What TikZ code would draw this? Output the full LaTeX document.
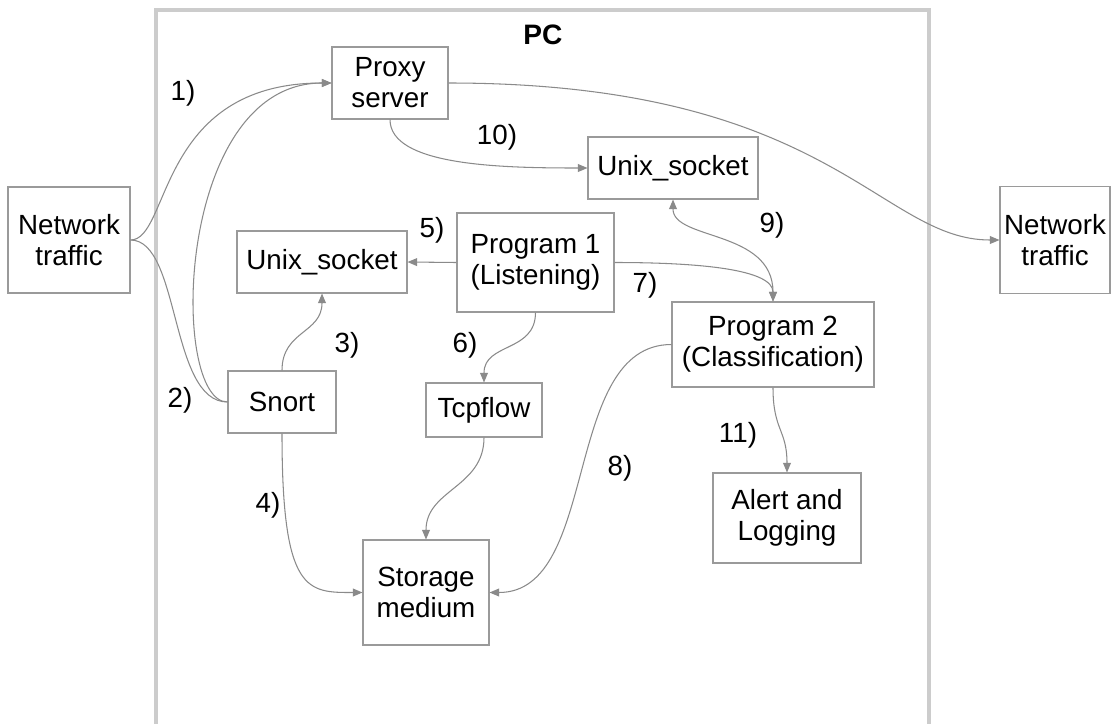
\documentclass[tikz,border=0pt]{standalone}
\usepackage{fontspec}
\setmainfont{Liberation Sans}
\usetikzlibrary{arrows.meta}

\definecolor{linegray}{HTML}{8A8A8A}
\definecolor{boxgray}{HTML}{9A9A9A}
\definecolor{framegray}{HTML}{CCCCCC}

\begin{document}
\begin{tikzpicture}[
    x=0.02cm, y=-0.02cm,
    box/.style={rectangle, draw=boxgray, line width=0.6pt, align=center, inner sep=0pt,
        font=\fontsize{15.8}{17.6}\selectfont},
    steplabel/.style={inner sep=0pt, font=\fontsize{15.8}{17.6}\selectfont},
    arrow/.style={draw=linegray, line width=0.6pt, -{Triangle[length=5.5pt,width=4.5pt]}, color=linegray},
    plain/.style={draw=linegray, line width=0.6pt}
]
\useasboundingbox (0,0) rectangle (1117,724);

% PC frame
\draw[framegray, line width=2.8pt] (156,740) -- (156,10) -- (929,10) -- (929,740);
\node[font=\fontsize{16}{18}\selectfont\bfseries] (pc) at (543,35) {PC};

\node[box, minimum width=2.44cm, minimum height=2.12cm] (ntl) at (69,240) {Network\\traffic};
\node[box, minimum width=2.2cm, minimum height=2.14cm] (ntr) at (1055,240) {Network\\traffic};
\node[box, minimum width=2.32cm, minimum height=1.44cm] (proxy) at (390,83) {Proxy\\server};
\node[box, minimum width=3.4cm, minimum height=1.24cm] (us1) at (322,262) {Unix\_socket};
\node[box, minimum width=3.4cm, minimum height=1.24cm] (us2) at (673,168) {Unix\_socket};
\node[box, minimum width=2.16cm, minimum height=1.24cm] (snort) at (282,402) {Snort};
\node[box, minimum width=3.14cm, minimum height=1.98cm] (p1) at (535.5,262.5) {Program 1\\(Listening)};
\node[box, minimum width=4.04cm, minimum height=1.7cm] (p2) at (773,344.5) {Program 2\\(Classification)};
\node[box, minimum width=2.32cm, minimum height=1.08cm] (tcp) at (484,410) {Tcpflow};
\node[box, minimum width=2.52cm, minimum height=2.1cm] (store) at (426,592.5) {Storage\\medium};
\node[box, minimum width=2.96cm, minimum height=1.8cm] (alert) at (787,518) {Alert and\\Logging};

% step numbers
\node[steplabel] (l1) at (183,93) {1)};
\node[steplabel] (l2) at (180,400) {2)};
\node[steplabel] (l3) at (347,345) {3)};
\node[steplabel] (l4) at (268,505) {4)};
\node[steplabel] (l5) at (432,230) {5)};
\node[steplabel] (l6) at (465,345) {6)};
\node[steplabel] (l7) at (645,285) {7)};
\node[steplabel] (l8) at (620,468) {8)};
\node[steplabel] (l9) at (772,225) {9)};
\node[steplabel] (l10) at (497,137) {10)};
\node[steplabel] (l11) at (738,435) {11)};

\draw[arrow] (ntl.east) .. controls +(40,0) and +(-175,0) .. (proxy.west);
\draw[plain] (ntl.east) .. controls +(50,0) and +(-58,0) .. (snort.west);
\draw[arrow] (snort.west) .. controls +(-58,0) and +(-157,0) .. (proxy.west);
\draw[arrow] (proxy.east) .. controls +(382,0) and +(-120,0) .. (ntr.west);
\draw[arrow] (proxy.south) .. controls +(0,46) and +(-88,0) .. (us2.west);
\draw[arrow] (p1.west) -- (us1.east);
\draw[arrow] (p1.east) .. controls +(86,0) and +(0,-32) .. (p2.north);
\draw[arrow, {Triangle[length=5.5pt,width=4.5pt]}-{Triangle[length=5.5pt,width=4.5pt]}] (us2.south) .. controls +(0,41) and +(0,-72) .. (p2.north);
\draw[arrow] (p1.south) .. controls +(0,40) and +(0,-40) .. (tcp.north);
\draw[arrow] (snort.north) .. controls +(0,-40) and +(0,40) .. (us1.south);
\draw[arrow] (snort.south) .. controls +(0,160) and +(-55,0) .. (store.west);
\draw[arrow] (tcp.south) .. controls +(0,50) and +(0,-50) .. (store.north);
\draw[arrow] (p2.west) .. controls +(-110,0) and +(111,0) .. (store.east);
\draw[arrow] (p2.south) .. controls +(0,43) and +(0,-43) .. (alert.north);
\end{tikzpicture}
\end{document}
